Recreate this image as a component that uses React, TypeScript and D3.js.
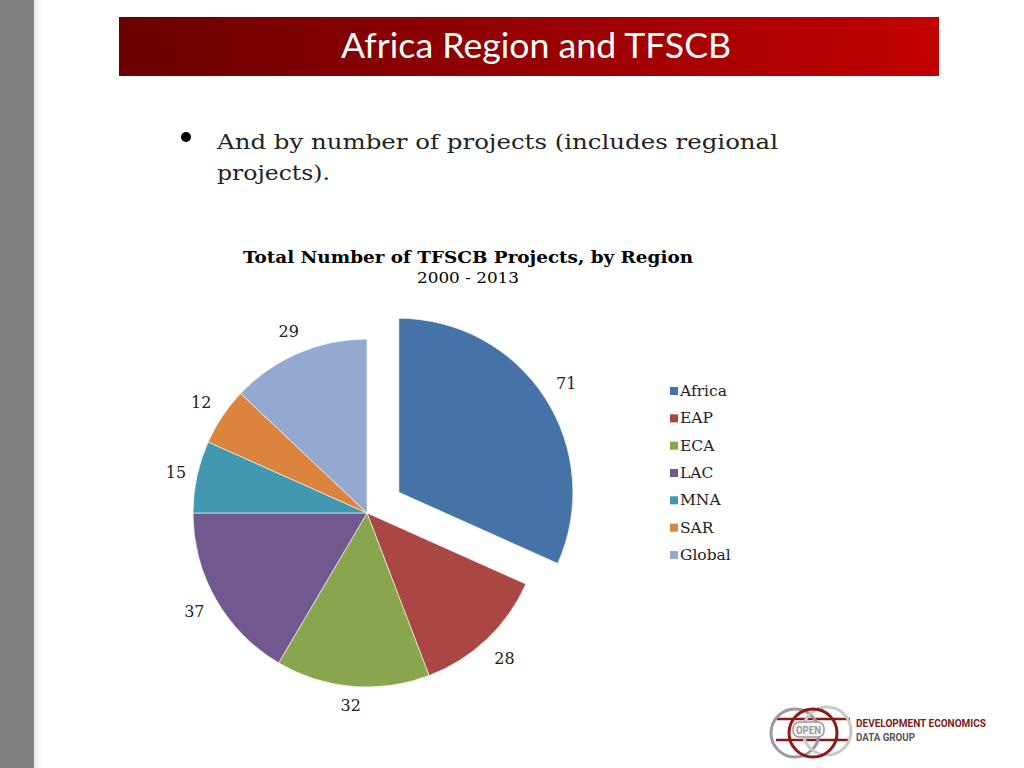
import React from "react";
import * as d3 from "d3";

const categories = ["Africa", "EAP", "ECA", "LAC", "MNA", "SAR", "Global"];
const values = [71, 28, 32, 37, 15, 12, 29];
const colors = ["#4572A7", "#AA4643", "#89A54E", "#71588F", "#4198AF", "#DB843D", "#93A9CF"];
const explodedCategory = "Africa";

const chartTitle = "Total Number of TFSCB Projects, by Region";
const chartSubtitle = "2000 - 2013";
const slideTitle = "Africa Region and TFSCB";
const bulletLines = ["And by number of projects (includes regional", "projects)."];

const SERIF = "'DejaVu Serif', 'Liberation Serif', serif";
const NARROW = "'Liberation Sans Narrow', 'Roboto', sans-serif";

export default function App() {
  const cx = 367;
  const cy = 513;
  const r = 174;
  const explode = 38;

  const data = categories.map((c, i) => ({ cat: c, value: values[i], color: colors[i] }));
  const pie = d3.pie<any>().sort(null).value((d: any) => d.value);
  const arcs = pie(data);
  const arcGen = d3.arc<any>().innerRadius(0).outerRadius(r);

  const offsetOf = (a: any) => {
    if (a.data.cat !== explodedCategory) return [0, 0];
    const mid = (a.startAngle + a.endAngle) / 2;
    return [explode * Math.sin(mid), -explode * Math.cos(mid)];
  };
  const labelPos = (a: any) => {
    const mid = (a.startAngle + a.endAngle) / 2;
    const R = r + 18 + 8 * Math.abs(Math.sin(2 * mid));
    return [R * Math.sin(mid), -R * Math.cos(mid)];
  };

  const legendY = d3.scalePoint<string>().domain(categories).range([391, 555]);

  return (
    <svg width={1024} height={768} style={{ position: "absolute", left: 0, top: 0, background: "#fff" }}>
      <defs>
        <linearGradient id="titleGrad" x1="0" y1="0" x2="1" y2="0">
          <stop offset="0" stopColor="#6a0000" />
          <stop offset="1" stopColor="#c20000" />
        </linearGradient>
        <linearGradient id="sideShade" x1="0" y1="0" x2="1" y2="0">
          <stop offset="0" stopColor="#d8d8d8" />
          <stop offset="1" stopColor="#ffffff" />
        </linearGradient>
      </defs>
      <rect x={0} y={0} width={1024} height={768} fill="#fff" />
      <rect x={0} y={0} width={34} height={768} fill="#808080" />
      <rect x={34} y={0} width={8} height={768} fill="url(#sideShade)" opacity={0.6} />

      <rect x={119} y={17} width={820} height={59} fill="url(#titleGrad)" />
      <text x={536} y={58} textAnchor="middle" fill="#fff"
        style={{ fontFamily: "Lato, 'Open Sans', sans-serif", fontSize: 34 }}
        textLength={390} lengthAdjust="spacingAndGlyphs">{slideTitle}</text>

      <circle cx={186} cy={137} r={5} fill="#000" />
      {bulletLines.map((t, i) => (
        <text key={i} x={217} y={149 + i * 31} fill="#222"
          style={{ fontFamily: SERIF, fontSize: 21 }}
          textLength={i === 0 ? 561 : 113} lengthAdjust="spacingAndGlyphs">{t}</text>
      ))}

      <text x={468} y={263} textAnchor="middle" fill="#000"
        style={{ fontFamily: SERIF, fontSize: 17, fontWeight: "bold" }}
        textLength={450} lengthAdjust="spacingAndGlyphs">{chartTitle}</text>
      <text x={468} y={283} textAnchor="middle" fill="#000"
        style={{ fontFamily: SERIF, fontSize: 15 }}
        textLength={102} lengthAdjust="spacingAndGlyphs">{chartSubtitle}</text>

      <g transform={`translate(${cx},${cy})`}>
        {arcs.map((a, i) => {
          const [dx, dy] = offsetOf(a);
          return (
            <path key={i} d={arcGen(a) as string} transform={`translate(${dx},${dy})`}
              fill={a.data.color} stroke="#ffffff" strokeWidth={0.6} />
          );
        })}
        {arcs.map((a, i) => {
          const [dx, dy] = offsetOf(a);
          const [lx, ly] = labelPos(a);
          return (
            <text key={"l" + i} x={lx + dx} y={ly + dy} textAnchor="middle" dominantBaseline="central"
              fill="#222" style={{ fontFamily: SERIF, fontSize: 16 }}>{a.data.value}</text>
          );
        })}
      </g>

      <g>
        {categories.map((c, i) => (
          <g key={c} transform={`translate(670,${legendY(c)})`}>
            <rect x={0} y={-4} width={8} height={8} fill={colors[i]} />
            <text x={10} y={0} dominantBaseline="central" fill="#222"
              style={{ fontFamily: SERIF, fontSize: 15.5 }}>{c}</text>
          </g>
        ))}
      </g>

      <g>
        <line x1={776} y1={719} x2={850} y2={719} stroke="#8b1a1a" strokeWidth={2.5} />
        <line x1={776} y1={740} x2={850} y2={740} stroke="#8b1a1a" strokeWidth={2.5} />
        <circle cx={795} cy={733} r={24} fill="none" stroke="#9a9a9a" strokeWidth={3} />
        <circle cx={827} cy={731} r={24} fill="none" stroke="#c8c8c8" strokeWidth={3} />
        <circle cx={813} cy={733} r={24} fill="none" stroke="#8b1a1a" strokeWidth={3} />
        <rect x={793} y={722} width={31} height={15} rx={6} fill="#f4f4f4" stroke="#9a9a9a" strokeWidth={1.5} />
        <text x={808.5} y={733.5} textAnchor="middle" fill="#9a9a9a"
          style={{ fontFamily: NARROW, fontSize: 11, fontWeight: "bold" }}
          textLength={25} lengthAdjust="spacingAndGlyphs">OPEN</text>
        <text x={856} y={727} fill="#7a1c1c"
          style={{ fontFamily: NARROW, fontSize: 11.5, fontWeight: "bold" }}
          textLength={130} lengthAdjust="spacingAndGlyphs">DEVELOPMENT ECONOMICS</text>
        <text x={856} y={741} fill="#555"
          style={{ fontFamily: NARROW, fontSize: 11.5, fontWeight: "bold" }}
          textLength={59} lengthAdjust="spacingAndGlyphs">DATA GROUP</text>
      </g>
    </svg>
  );
}
